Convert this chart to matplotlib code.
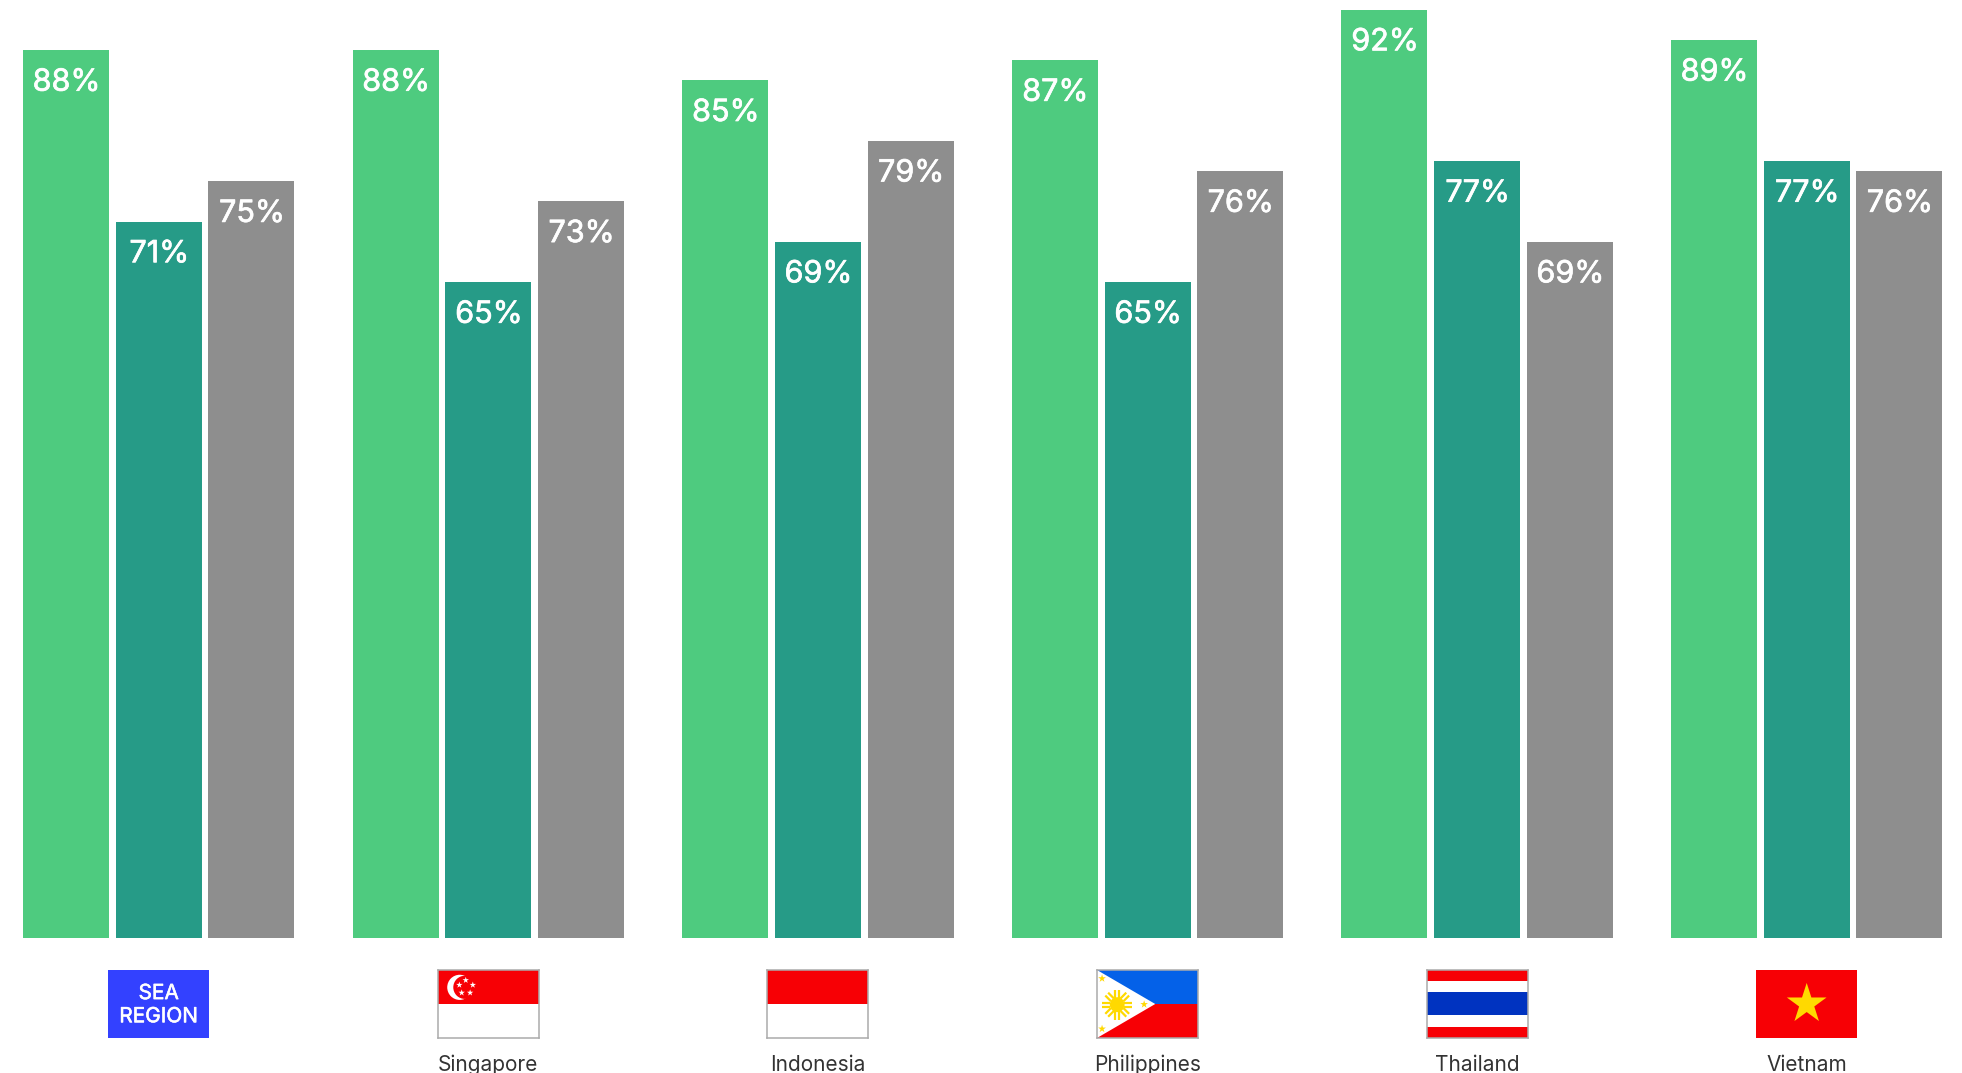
import numpy as np
import matplotlib
matplotlib.use("Agg")
import matplotlib.pyplot as plt
import matplotlib.patheffects as pe
from matplotlib.patches import Rectangle, Polygon, Circle

plt.rcParams['font.family'] = ['Inter', 'DejaVu Sans']

# Survey results per market, in percent
countries = ["", "Singapore", "Indonesia", "Philippines", "Thailand", "Vietnam"]
series_a = [88, 88, 85, 87, 92, 89]
series_b = [71, 65, 69, 65, 77, 77]
series_c = [75, 73, 79, 76, 69, 76]
series_colors = ["#4ECB7F", "#269B87", "#8E8E8E"]

RED = "#F70005"
YELLOW = "#FFD900"
EDGE = "#ABABAB"

W, H = 1962, 1073
GROUP_PX = 329.6
UNIT_PX = 10.09
ORIGIN_X = 158.7
BASE_Y = 938.0

fig = plt.figure(figsize=(W / 100, H / 100), dpi=100, facecolor="white")
ax = fig.add_axes([0, 0, 1, 1])
ax.set_xlim(-ORIGIN_X / GROUP_PX, (W - ORIGIN_X) / GROUP_PX)
ax.set_ylim(-(H - BASE_Y) / UNIT_PX, BASE_Y / UNIT_PX)
ax.axis("off")

# Thin white outline gives the labels a heavier, medium-weight look
heavier = [pe.withStroke(linewidth=0.5, foreground="white")]

bar_w = 86 / GROUP_PX
step = 92.7 / GROUP_PX
for k, (vals, col) in enumerate(zip([series_a, series_b, series_c], series_colors)):
    xs = np.arange(len(vals)) + (k - 1) * step
    ax.bar(xs, vals, width=bar_w, color=col, linewidth=0)
    for x, v in zip(xs, vals):
        ax.annotate(f"{v}%", (x, v), xytext=(0.4, -23.5), textcoords="offset points",
                    ha="center", va="center", color="white", fontsize=22,
                    path_effects=heavier)


def star(a, cx, cy, r, color, rot=90):
    ang = np.deg2rad(rot + np.arange(10) * 36)
    rad = np.where(np.arange(10) % 2 == 0, r, r * 0.382)
    a.add_patch(Polygon(np.c_[cx + rad * np.cos(ang), cy + rad * np.sin(ang)],
                        closed=True, fc=color, ec="none", zorder=4))


def draw_sea(a):
    a.add_patch(Rectangle((0, 0), 3, 2, fc="#3341FF", ec="none"))
    a.text(1.5, 0.98, "SEA\nREGION", color="white", ha="center", va="center",
           fontsize=15, linespacing=1.2,
           path_effects=[pe.withStroke(linewidth=0.4, foreground="white")])


def draw_singapore(a):
    a.add_patch(Rectangle((0, 1), 3, 1, fc=RED, ec="none"))
    a.add_patch(Circle((0.65, 1.49), 0.37, fc="white", ec="none", zorder=2))
    a.add_patch(Circle((0.80, 1.49), 0.34, fc=RED, ec="none", zorder=3))
    for x, y in [(0.83, 1.70), (0.64, 1.56), (1.04, 1.56), (0.71, 1.33), (0.96, 1.33)]:
        star(a, x, y, 0.10, "white")


def draw_indonesia(a):
    a.add_patch(Rectangle((0, 1), 3, 1, fc=RED, ec="none"))


def draw_philippines(a):
    a.add_patch(Rectangle((0, 1), 3, 1, fc="#0461E8", ec="none"))
    a.add_patch(Rectangle((0, 0), 3, 1, fc=RED, ec="none"))
    a.add_patch(Polygon([(0, 0), (0, 2), (1.73, 1)], closed=True, fc="white", ec="none", zorder=2))
    c = np.array([0.60, 0.98])
    for d in np.arange(0, 360, 45):
        t = np.deg2rad(d)
        n = np.array([-np.sin(t), np.cos(t)])
        u = np.array([np.cos(t), np.sin(t)])
        for off in (-0.06, 0.06):
            p = c + off * n
            a.plot(*zip(p + 0.2 * u, p + 0.44 * u), color=YELLOW, lw=1.6, zorder=3,
                   solid_capstyle="butt")
    a.add_patch(Circle(c, 0.22, fc=YELLOW, ec="none", zorder=4))
    for x, y in [(0.15, 1.75), (0.15, 0.27), (1.40, 0.99)]:
        star(a, x, y, 0.12, YELLOW)


def draw_thailand(a):
    a.add_patch(Rectangle((0, 0), 3, 2, fc=RED, ec="none"))
    a.add_patch(Rectangle((0, 0.33), 3, 1.34, fc="white", ec="none", zorder=2))
    a.add_patch(Rectangle((0, 0.67), 3, 0.67, fc="#0033C0", ec="none", zorder=3))


def draw_vietnam(a):
    a.add_patch(Rectangle((0, 0), 3, 2, fc=RED, ec="none"))
    star(a, 1.5, 1.0, 0.62, YELLOW)


flag_painters = [draw_sea, draw_singapore, draw_indonesia,
                 draw_philippines, draw_thailand, draw_vietnam]
bordered = [False, True, True, True, True, False]

flag_w = 101 / GROUP_PX
flag_h = 68 / UNIT_PX
flag_bottom = -(1038 - BASE_Y) / UNIT_PX
label_y = -(1065 - BASE_Y) / UNIT_PX

for i, (name, painter, has_edge) in enumerate(zip(countries, flag_painters, bordered)):
    inset = ax.inset_axes([i - flag_w / 2, flag_bottom, flag_w, flag_h], transform=ax.transData)
    inset.set_xlim(0, 3)
    inset.set_ylim(0, 2)
    inset.set_xticks([])
    inset.set_yticks([])
    inset.set_facecolor("white")
    for spine in inset.spines.values():
        spine.set_visible(has_edge)
        spine.set_color(EDGE)
        spine.set_linewidth(1.1)
        spine.set_zorder(6)
    painter(inset)
    if name:
        ax.text(i, label_y, name, ha="center", va="center", fontsize=15, color="#333333")

fig.savefig("out.png", dpi=100, facecolor="white")
